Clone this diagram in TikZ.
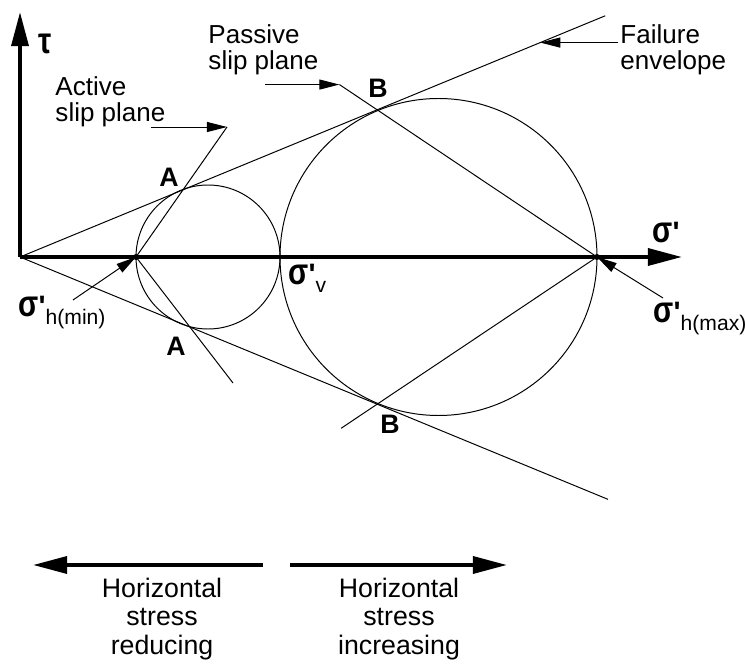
\documentclass[tikz,border=0pt]{standalone}
\usepackage{fontspec}
\setmainfont{Liberation Sans}
\usetikzlibrary{arrows.meta,positioning,calc}
\newcommand{\sgm}{\scalebox{1}[1.25]{\bfseries σ}{\bfseries\textquotesingle}}
\newcommand{\sig}[1]{\sgm\raisebox{-5pt}{\fontsize{15}{15}\selectfont\mdseries #1}}

\begin{document}
\begin{tikzpicture}[x=0.025cm,y=0.025cm,line width=0.7pt,
  axis/.style={line width=2.8pt,-{Triangle[length=0.85cm,width=0.42cm]}},
  pointer/.style={-{Triangle[length=0.5cm,width=0.25cm]}},
  note/.style={font=\fontsize{18.5}{18.5}\selectfont,align=left,inner sep=0pt},
  trend/.style={font=\fontsize{19}{20}\selectfont,align=center,inner sep=0pt},
  tangent/.style={font=\fontsize{19}{19}\selectfont\bfseries,inner sep=0pt},
  stress/.style={font=\fontsize{21}{21}\selectfont,inner sep=0pt}]
  \useasboundingbox (-20,-407) rectangle (725,257);
  \coordinate (O) at (0,0);
  \coordinate (tauEnd) at (0,245);
  \coordinate (sigEnd) at (662,0);
  \coordinate (pmin) at (116,0);
  \coordinate (pv) at (260,0);
  \coordinate (pmax) at (577,0);
  \coordinate (c1) at (188,0);
  \coordinate (c2) at (418.5,0);
  \coordinate (envU) at (22.4:633);
  \coordinate (envL) at (-22.4:636);
  \coordinate (aU) at (207,130);
  \coordinate (aL) at (213,-126);
  \coordinate (bU) at ($(pmax)+(146.2:310)$);
  \coordinate (bL) at ($(pmax)+(-146.2:308)$);
  \coordinate (envTip) at ($(O)!0.889!(envU)$);
  \coordinate (envTail) at ($(envTip)+(78,0)$);
  \coordinate (actTail) at ($(aU)+(-76,0)$);
  \coordinate (pasTail) at ($(bU)+(-74,0)$);
  \coordinate (minTail) at (53,-43);
  \coordinate (maxTail) at (643,-41);
  \coordinate (gapL) at (243,-308);
  \coordinate (farL) at (13,-308);
  \coordinate (gapR) at (270,-308);
  \coordinate (farR) at (487,-308);

  \draw (c1) circle (72);
  \draw (c2) circle (158.5);
  \draw (O) -- (envU);
  \draw (O) -- (envL);
  \draw (pmin) -- (aU);
  \draw (pmin) -- (aL);
  \draw (pmax) -- (bU);
  \draw (pmax) -- (bL);
  \draw[axis] (O) -- (tauEnd);
  \draw[axis] (O) -- (sigEnd);
  \fill (pmin) circle (3);
  \fill (pmax) circle (3);

  \draw[pointer] (actTail) -- (aU);
  \draw[pointer] (pasTail) -- (bU);
  \draw[pointer] (envTail) -- (envTip);
  \draw[pointer] (minTail) -- (pmin);
  \draw[pointer] (maxTail) -- (pmax);

  \node[stress] (tau) at (25,213) {\scalebox{1}[1.25]{\bfseries τ}};
  \node[stress,anchor=base west] (sig) at (632,14) {\sgm};
  \node[stress,anchor=base west] (smin) at (-2,-60) {\sig{h(min)}};
  \node[stress,anchor=base west] (sv) at (268,-28) {\sig{v}};
  \node[stress,anchor=base west] (smax) at (633,-66) {\sig{h(max)}};

  \node[tangent] (Aup) at (149,80) {A};
  \node[tangent] (Alow) at (156,-89) {A};
  \node[tangent] (Bup) at (358,169) {B};
  \node[tangent] (Blow) at (370,-167) {B};

  \node[note,anchor=north west] (active) at (35,181) {Active\\slip plane};
  \node[note,anchor=north west] (passive) at (188,233) {Passive\\slip plane};
  \node[note,anchor=north west] (failure) at (600,233) {Failure\\envelope};

  \draw[axis] (gapL) -- (farL);
  \draw[axis] (gapR) -- (farR);
  \node[trend,anchor=north] (reduce) at (142,-321) {Horizontal\\stress\\reducing};
  \node[trend,anchor=north] (increase) at (379,-321) {Horizontal\\stress\\increasing};
\end{tikzpicture}
\end{document}
